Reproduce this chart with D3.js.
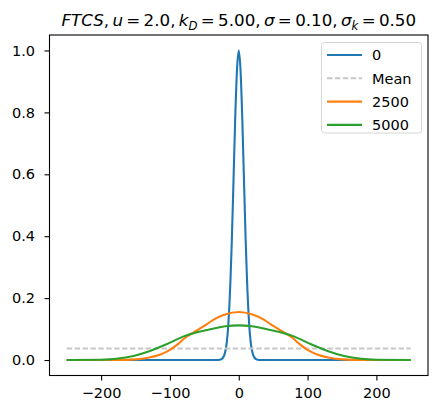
<!DOCTYPE html>
<html>
<meta charset="utf-8">
<style>
body { margin: 0; background: #fff; }
text { font-family: "DejaVu Sans", sans-serif; fill: #000; }
.tick line { stroke: #000; stroke-width: 1.1px; }
.tick text { font-size: 14.5px; }
.domain { display: none; }
</style>
<body>
<script src="https://d3js.org/d3.v7.min.js"></script>
<script>

// values
var xBlue = [-250,-30,-25,-20,-15,-12,-10,-7.5,-5,-2.5,0,2.5,5,7.5,10,12,15,20,25,30,250];
var yBlue = [0,0,0.003,0.023,0.12,0.26,0.39,0.59,0.79,0.94,1.0,0.94,0.79,0.59,0.39,0.26,0.12,0.023,0.003,0,0];

var xMean = [-250, 250];
var yMean = [0.037, 0.037];

var xOrange = [-250,-180,-150,-130,-115,-100,-88,-78,-65,-50,-37,-20,0,20,37,50,65,78,88,100,115,130,150,180,250];
var yOrange = [0,0,0.002,0.008,0.017,0.033,0.052,0.072,0.09,0.11,0.13,0.147,0.155,0.147,0.13,0.11,0.09,0.072,0.052,0.033,0.017,0.008,0.002,0,0];

var xGreen = [-250,-200,-178,-153,-129,-105,-78,-58,-38,-19,0,19,38,58,78,105,129,153,178,200,250];
var yGreen = [0,0.001,0.004,0.013,0.029,0.051,0.078,0.091,0.101,0.109,0.112,0.109,0.101,0.091,0.078,0.051,0.029,0.013,0.004,0.001,0];

var xTicks = [-200,-100,0,100,200];
var yTicks = [0,0.2,0.4,0.6,0.8,1.0];

var series = [
  {name:"0", xs:xBlue, ys:yBlue, color:"#1f77b4", dash:null},
  {name:"Mean", xs:xMean, ys:yMean, color:"#c8c8c8", dash:"5.5,2.4"},
  {name:"2500", xs:xOrange, ys:yOrange, color:"#ff7f0e", dash:null},
  {name:"5000", xs:xGreen, ys:yGreen, color:"#2ca02c", dash:null}
];

var L = 49.5, R = 428, T = 35, B = 375.5;

var svg = d3.select("body").append("svg").attr("width", 439).attr("height", 404);

var x = d3.scaleLinear().domain([-275, 275]).range([L, R]);
var y = d3.scaleLinear().domain([-0.05, 1.05]).range([B, T]);

var line = d3.line()
  .x(d => x(d[0]))
  .y(d => y(d[1]))
  .curve(d3.curveMonotoneX);

svg.append("clipPath").attr("id","clip")
  .append("rect").attr("x",L).attr("y",T).attr("width",R-L).attr("height",B-T);

var plot = svg.append("g").attr("clip-path","url(#clip)");

series.forEach(function(s){
  plot.append("path")
    .datum(d3.zip(s.xs, s.ys))
    .attr("d", line)
    .attr("fill","none")
    .attr("stroke", s.color)
    .attr("stroke-width", 2.1)
    .attr("stroke-dasharray", s.dash)
    .attr("stroke-linejoin","round");
});

svg.append("g")
  .attr("transform","translate(0,"+B+")")
  .call(d3.axisBottom(x).tickValues(xTicks).tickSize(5).tickPadding(7)
    .tickFormat(d => d3.format("d")(d).replace("-", "\u2212")));

svg.append("g")
  .attr("transform","translate("+L+",0)")
  .call(d3.axisLeft(y).tickValues(yTicks).tickSize(5).tickPadding(9.5).tickFormat(d3.format(".1f")));

svg.selectAll(".tick text").attr("fill","#000");

svg.append("rect")
  .attr("x",L).attr("y",T).attr("width",R-L).attr("height",B-T)
  .attr("fill","none").attr("stroke","#000").attr("stroke-width",1.1);

// title (mathtext style)
var title = svg.append("text")
  .attr("x", (L+R)/2).attr("y", 26)
  .attr("text-anchor","middle")
  .style("font-size","16.7px");
var parts = [
  ["FTCS","i"],[",\u2009","n"],["u","i"],["\u2009=\u20092.0,\u2009","n"],
  ["k","i"],["D","s"],["\u2009=\u20095.00,\u2009","n"],
  ["\u03c3","i"],["\u2009=\u20090.10,\u2009","n"],
  ["\u03c3","i"],["k","s"],["\u2009=\u20090.50","n"]
];
var shifted = false;
parts.forEach(function(p){
  var t = title.append("tspan").text(p[0]);
  if (p[1] != "n") t.style("font-style","italic");
  if (p[1] == "s") { t.attr("dy", 3.5).style("font-size","11.7px"); shifted = true; }
  else if (shifted) { t.attr("dy", -3.5); shifted = false; }
});

// legend
var lg = svg.append("g");
lg.append("rect")
  .attr("x",321.5).attr("y",42.5).attr("width",100).attr("height",90.5)
  .attr("rx",3).attr("fill","#fff").attr("fill-opacity",0.8)
  .attr("stroke","#d5d5d5").attr("stroke-width",1);
series.forEach(function(s,i){
  var cy = 55 + i*23.3;
  lg.append("line")
    .attr("x1",327).attr("x2",362).attr("y1",cy).attr("y2",cy)
    .attr("stroke",s.color).attr("stroke-width",2.1)
    .attr("stroke-dasharray", s.dash);
  lg.append("text")
    .attr("x",372).attr("y",cy).attr("dy","0.36em")
    .style("font-size","14.5px")
    .text(s.name);
});

</script>
</body>
</html>
